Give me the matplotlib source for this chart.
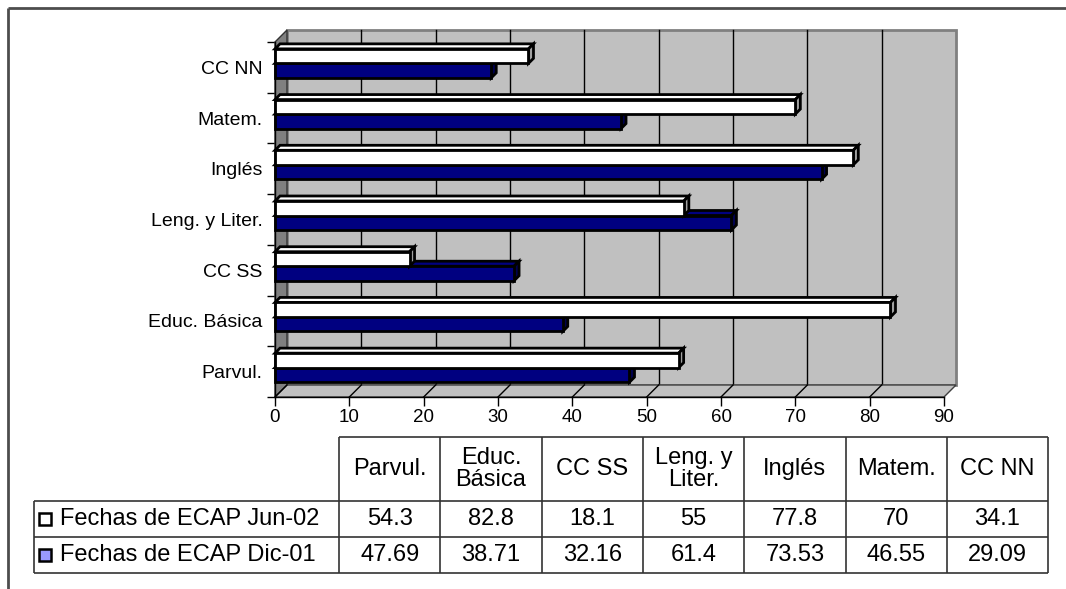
import numpy as np
import matplotlib
matplotlib.use('Agg')
import matplotlib.pyplot as plt
from matplotlib.patches import Rectangle, Polygon

plt.rcParams['font.family'] = ['Liberation Sans', 'DejaVu Sans']

# Datos por asignatura (de abajo hacia arriba en el gráfico)
categories = ['Parvul.', 'Educ. Básica', 'CC SS', 'Leng. y Liter.', 'Inglés', 'Matem.', 'CC NN']
table_headers = ['Parvul.', 'Educ.\nBásica', 'CC SS', 'Leng. y\nLiter.', 'Inglés', 'Matem.', 'CC NN']
series_names = ['Fechas de ECAP Jun-02', 'Fechas de ECAP Dic-01']
jun02 = [54.3, 82.8, 18.1, 55, 77.8, 70, 34.1]
dic01 = [47.69, 38.71, 32.16, 61.4, 73.53, 46.55, 29.09]
x_ticks = list(range(0, 100, 10))

W, H = 1066, 589
fig = plt.figure(figsize=(W / 100, H / 100), dpi=100)

# capa de fondo en pixeles: marco y tabla de datos
bg = fig.add_axes([0, 0, 1, 1])
bg.set_xlim(0, W)
bg.set_ylim(H, 0)
bg.axis('off')

bg.plot([8, W], [8, 8], color='#4d4d4d', lw=2, solid_capstyle='butt')
bg.plot([8, 8], [8, H], color='#4d4d4d', lw=2, solid_capstyle='butt')

# área del gráfico (plano frontal)
left, right, top, bottom = 275, 944, 42, 397
ax = fig.add_axes([left / W, 1 - bottom / H, (right - left) / W, (bottom - top) / H])
ax.set_xlim(0, 90)
ax.set_ylim(-0.5, len(categories) - 0.5)
ax.patch.set_visible(False)
for s in ['top', 'right']:
    ax.spines[s].set_visible(False)
for s in ['left', 'bottom']:
    ax.spines[s].set_color('black')
    ax.spines[s].set_linewidth(1)
    ax.spines[s].set_zorder(6)

px_x = (right - left) / 90.0
px_y = (bottom - top) / len(categories)
wdx, wdy = 12 / px_x, 12 / px_y        # profundidad de las paredes
bdx, bdy = 5 / px_x, 5 / px_y          # profundidad de las barras
y_lo, y_hi = -0.5, len(categories) - 0.5
x_max = 90

# pared trasera y líneas de división
ax.add_patch(Rectangle((wdx, y_lo + wdy), x_max, y_hi - y_lo, facecolor='#C0C0C0',
                       edgecolor='#808080', lw=2, zorder=1, clip_on=False))
for xt in x_ticks[1:-1]:
    ax.plot([xt + wdx, xt + wdx], [y_lo + wdy, y_hi + wdy], color='black', lw=1,
            zorder=1.5, clip_on=False)

# pared izquierda
ax.add_patch(Polygon([(0, y_lo), (0, y_hi), (wdx, y_hi + wdy), (wdx, y_lo + wdy)],
                     closed=True, facecolor='#808080', edgecolor='#333333', lw=1,
                     zorder=2, clip_on=False))
# piso
ax.add_patch(Polygon([(0, y_lo), (x_max, y_lo), (x_max + wdx, y_lo + wdy), (wdx, y_lo + wdy)],
                     closed=True, facecolor='#C0C0C0', edgecolor='#404040', lw=1,
                     zorder=2, clip_on=False))
for xt in x_ticks[:-1]:
    ax.plot([xt, xt + wdx], [y_lo, y_lo + wdy], color='black', lw=1, zorder=2.5, clip_on=False)


def bar3d(y0, h, length, front, topc, side, z):
    kw = dict(edgecolor='black', lw=2, joinstyle='miter', zorder=z, clip_on=False)
    ax.add_patch(Polygon([(0, y0 + h), (length, y0 + h), (length + bdx, y0 + h + bdy),
                          (bdx, y0 + h + bdy)], closed=True, facecolor=topc, **kw))
    ax.add_patch(Polygon([(length, y0), (length + bdx, y0 + bdy), (length + bdx, y0 + h + bdy),
                          (length, y0 + h)], closed=True, facecolor=side, **kw))
    ax.add_patch(Rectangle((0, y0), length, h, facecolor=front, **kw))


bar_h = 14.5 / px_y
white_off = 4 / px_y
for i, (a, b) in enumerate(zip(jun02, dic01)):
    bar3d(i + white_off - bar_h, bar_h, b, '#000080', '#000080', '#00004d', 3 + i * 0.1)
    bar3d(i + white_off, bar_h, a, '#FFFFFF', '#FFFFFF', '#A0A0A0', 3.05 + i * 0.1)

# ejes
ax.set_xticks(x_ticks)
ax.tick_params(axis='x', direction='out', length=6.5, width=1, pad=2, labelsize=13.5)
ax.set_yticks(np.arange(y_lo, y_hi + 0.01, 1.0))
ax.set_yticklabels([])
ax.tick_params(axis='y', which='major', direction='out', length=6, width=1)
ax.set_yticks(range(len(categories)), minor=True)
ax.set_yticklabels(categories, minor=True)
ax.tick_params(axis='y', which='minor', length=0, pad=9, labelsize=14)

# tabla de datos
col_x0, col_w = 339, 101.3
row_y = [437, 501, 537, 573]
leg_x0 = 34
x_edges = [col_x0 + k * col_w for k in range(len(categories) + 1)]
line_kw = dict(color='#333333', lw=1.2, solid_capstyle='butt')
bg.plot([x_edges[0], x_edges[-1]], [row_y[0], row_y[0]], **line_kw)
for yy in row_y[1:]:
    bg.plot([leg_x0, x_edges[-1]], [yy, yy], **line_kw)
bg.plot([leg_x0, leg_x0], [row_y[1], row_y[-1]], **line_kw)
for xx in x_edges:
    bg.plot([xx, xx], [row_y[0], row_y[-1]], **line_kw)

fs_tab = 17
for k, hdr in enumerate(table_headers):
    cx = (x_edges[k] + x_edges[k + 1]) / 2
    bg.text(cx, (row_y[0] + row_y[1]) / 2, hdr, ha='center', va='center',
            fontsize=fs_tab, linespacing=0.95)

key_colors = ['#FFFFFF', '#9999FF']
for r, (name, vals, kc) in enumerate(zip(series_names, [jun02, dic01], key_colors)):
    cy = (row_y[r + 1] + row_y[r + 2]) / 2
    bg.add_patch(Rectangle((39, cy - 6), 12, 12, facecolor=kc, edgecolor='black', lw=1.8))
    bg.text(60, cy, name, ha='left', va='center', fontsize=fs_tab)
    for k, v in enumerate(vals):
        cx = (x_edges[k] + x_edges[k + 1]) / 2
        bg.text(cx, cy, f'{v:g}', ha='center', va='center', fontsize=fs_tab)

fig.savefig('out.png', dpi=100)
